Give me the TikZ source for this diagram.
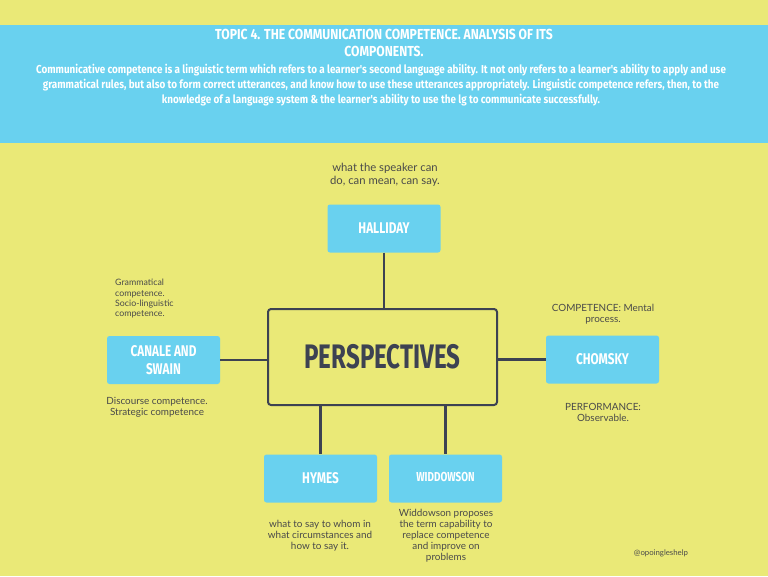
\documentclass[tikz,border=0pt]{standalone}
\usepackage{fontspec}
\setmainfont{Lato}
\newfontfamily\titlefont[FakeStretch=0.84]{Fira Sans}
\newfontfamily\introfont[FakeStretch=0.86]{Fira Sans}
\newfontfamily\boxfont[FakeStretch=0.76]{Fira Sans}
\newfontfamily\bigfont[FakeStretch=0.71]{Fira Sans}
\usetikzlibrary{positioning}
\definecolor{bgyellow}{HTML}{EAE977}
\definecolor{bandblue}{HTML}{69D1EF}
\definecolor{darkline}{HTML}{3D4252}
\definecolor{txtgray}{HTML}{4A4A4A}
\tikzset{
  bluebox/.style={fill=bandblue, draw=none, rounded corners=2.5pt, minimum width=113pt, minimum height=48pt, inner sep=0pt, text=white, align=center, font=\boxfont\bfseries\fontsize{15.5}{18}\selectfont},
  centerbox/.style={fill=bgyellow, draw=darkline, line width=2pt, rounded corners=3pt, minimum width=229pt, minimum height=96pt, inner sep=0pt, text=darkline, font=\bigfont\bfseries\fontsize{34}{36}\selectfont},
  conn/.style={draw=darkline, line width=2.2pt},
  note/.style={text=txtgray, align=center, inner sep=0pt, font=\fontsize{9.9}{11}\selectfont},
}
\begin{document}
\begin{tikzpicture}[x=1pt,y=-1pt]
\fill[bgyellow] (0,0) rectangle (768,576);
\useasboundingbox (0,0) rectangle (768,576);
\fill[bandblue] (0,25) rectangle (768,143);
\node[text=white, font=\titlefont\bfseries\fontsize{14.5}{17}\selectfont, align=center, inner sep=0pt] (title) at (384,42.5) {TOPIC 4. THE COMMUNICATION COMPETENCE. ANALYSIS OF ITS\\COMPONENTS.};
\node[text=white, font=\introfont\bfseries\fontsize{11.5}{15}\selectfont, align=center, inner sep=0pt] (intro) at (381,85) {Communicative competence is a linguistic term which refers to a learner's second language ability. It not only refers to a learner's ability to apply and use\\grammatical rules, but also to form correct utterances, and know how to use these utterances appropriately. Linguistic competence refers, then, to the\\knowledge of a language system \& the learner's ability to use the lg to communicate successfully.};

\node[centerbox] (persp) at (382.5,357) {PERSPECTIVES};
\node[bluebox] (halliday) at (384,228.5) {HALLIDAY};
\node[bluebox] (canale) at (163.5,360) {CANALE AND\\SWAIN};
\node[bluebox] (chomsky) at (602.5,359.5) {CHOMSKY};
\node[bluebox] (hymes) at (320.5,478.5) {HYMES};
\node[bluebox, font=\boxfont\bfseries\fontsize{13}{14}\selectfont] (widdowson) at (445.5,478.5) {\raisebox{3pt}{WIDDOWSON}};

\draw[conn] (halliday.south) -- (persp.north -| halliday.south);
\draw[conn] (canale.east) -- (persp.west |- canale.east);
\draw[conn, line width=3pt] (persp.east |- chomsky.west) -- (chomsky.west);
\draw[conn] (persp.south -| hymes.north) -- (hymes.north);
\draw[conn] (persp.south -| widdowson.north) -- (widdowson.north);

\node[note, font=\fontsize{11.3}{13}\selectfont] (nhal) at (385,175) {what the speaker can\\do, can mean, can say.};
\node[note, align=left, anchor=north west, font=\fontsize{8.8}{10.4}\selectfont] (ncan1) at (115,279) {Grammatical\\competence.\\Socio-linguistic\\competence.};
\node[note] (ncan2) at (157,407.5) {Discourse competence.\\Strategic competence};
\node[note] (ncho1) at (603,314.5) {COMPETENCE: Mental\\process.};
\node[note] (ncho2) at (603,412.5) {PERFORMANCE:\\Observable.};
\node[note] (nhym) at (320,536) {what to say to whom in\\what circumstances and\\how to say it.};
\node[note] (nwid) at (446,536) {Widdowson proposes\\the term capability to\\replace competence\\and improve on\\problems};
\node[note, font=\fontsize{7.8}{9}\selectfont] (handle) at (661,553) {@opoingleshelp};
\end{tikzpicture}
\end{document}
